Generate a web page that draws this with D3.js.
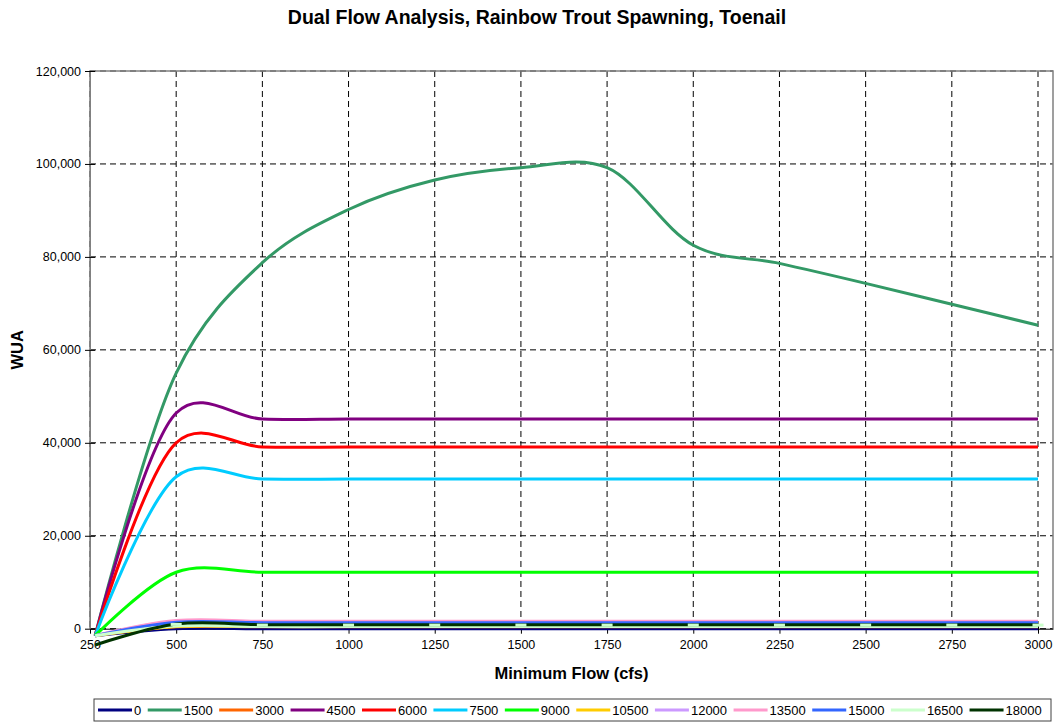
<!DOCTYPE html>
<html>
<head>
<meta charset="utf-8">
<script src="https://cdn.jsdelivr.net/npm/d3@7"></script>
<style>
  body { margin: 0; background: #fff; }
  svg { font-family: "Liberation Sans", Arial, sans-serif; }
  .title { font-size: 19.5px; font-weight: bold; }
  .axis-label { font-size: 16.5px; font-weight: bold; }
  .tick text { font-size: 12.5px; fill: #000; }
  .legend text { font-size: 13px; }
</style>
</head>
<body>
<svg width="1057" height="723"></svg>
<script>
// minimum flow (cfs) where each series has a point
const flows = [265, 500, 750, 1000, 1250, 1500, 1750, 2000, 2250, 2500, 2750, 3000];

// second flow (cfs) -> WUA values at each minimum flow
const seriesNames = ['0', '1500', '3000', '4500', '6000', '7500', '9000', '10500', '12000', '13500', '15000', '16500', '18000'];
const seriesColors = ['#000080', '#339966', '#ff6600', '#800080', '#ff0000', '#00ccff', '#00ff00', '#ffcc00', '#cc99ff', '#ff99cc', '#3366ff', '#ccffcc', '#003300'];

const wua0     = [-1500, 0, 0, 0, 0, 0, 0, 0, 0, 0, 0, 0];
const wua1500  = [-1500, 55000, 78750, 90200, 96550, 99200, 99200, 82500, 78600, 74300, 69800, 65300];
const wua3000  = [-1500, 400, 400, 400, 400, 400, 400, 400, 400, 400, 400, 400];
const wua4500  = [-1500, 46400, 45100, 45100, 45100, 45100, 45100, 45100, 45100, 45100, 45100, 45100];
const wua6000  = [-1500, 40000, 39100, 39100, 39100, 39100, 39100, 39100, 39100, 39100, 39100, 39100];
const wua7500  = [-1500, 32700, 32200, 32200, 32200, 32200, 32200, 32200, 32200, 32200, 32200, 32200];
const wua9000  = [-1500, 12150, 12150, 12150, 12150, 12150, 12150, 12150, 12150, 12150, 12150, 12150];
const wua10500 = [-1500, 450, 450, 450, 450, 450, 450, 450, 450, 450, 450, 450];
const wua12000 = [-1500, 1600, 1450, 1450, 1450, 1450, 1450, 1450, 1450, 1450, 1450, 1450];
const wua13500 = [-1500, 1750, 1600, 1600, 1600, 1600, 1600, 1600, 1600, 1600, 1600, 1600];
const wua15000 = [-1500, 1400, 1300, 1300, 1300, 1300, 1300, 1300, 1300, 1300, 1300, 1300];
const wua16500 = [-1500, 600, 450, 450, 450, 450, 450, 450, 450, 450, 450, 450];
const wua18000 = [-3500, 1000, 870, 870, 870, 870, 870, 870, 870, 870, 870, 870];

const seriesValues = [wua0, wua1500, wua3000, wua4500, wua6000, wua7500, wua9000,
    wua10500, wua12000, wua13500, wua15000, wua16500, wua18000];

const xTicks = [250, 500, 750, 1000, 1250, 1500, 1750, 2000, 2250, 2500, 2750, 3000];
const yTicks = [0, 20000, 40000, 60000, 80000, 100000, 120000];

var margin = {top: 71, right: 4, bottom: 94.3, left: 90},
    width = 1057 - margin.left - margin.right,
    height = 723 - margin.top - margin.bottom;

const svg = d3.select('svg');

const render = () => {
    const xScale = d3.scaleLinear()
        .domain([250, 3043.5])
        .range([0, width]);

    const yScale = d3.scaleLinear()
        .domain([0, 120000])
        .range([height, 0]);

    svg.append('text')
        .attr('class', 'title')
        .attr('x', 537)
        .attr('y', 24)
        .attr('text-anchor', 'middle')
        .text('Dual Flow Analysis, Rainbow Trout Spawning, Toenail');

    const g = svg.append('g')
        .attr('transform', `translate(${margin.left},${margin.top})`);

    // gridlines
    g.selectAll('.hgrid').data(yTicks).enter().append('line')
        .attr('x1', 0).attr('x2', width)
        .attr('y1', d => yScale(d)).attr('y2', d => yScale(d))
        .attr('stroke', '#000').attr('stroke-width', 1)
        .attr('stroke-dasharray', '6,4');

    g.selectAll('.vgrid').data(xTicks).enter().append('line')
        .attr('x1', d => xScale(d)).attr('x2', d => xScale(d))
        .attr('y1', 0).attr('y2', height)
        .attr('stroke', '#000').attr('stroke-width', 1)
        .attr('stroke-dasharray', '6,4');

    // plot frame
    g.append('path')
        .attr('d', `M0,${height}V0H${width}V${height}`)
        .attr('fill', 'none')
        .attr('stroke', '#808080')
        .attr('stroke-width', 1.5);

    const xAxis = d3.axisBottom(xScale)
        .tickValues(xTicks)
        .tickFormat(d3.format('d'))
        .tickSizeInner(5)
        .tickSizeOuter(0)
        .tickPadding(6);

    const yAxis = d3.axisLeft(yScale)
        .tickValues(yTicks)
        .tickFormat(d3.format(','))
        .tickSizeInner(5)
        .tickSizeOuter(0)
        .tickPadding(4);

    const xAxisG = g.append('g').call(xAxis)
        .attr('transform', `translate(0,${height})`);
    xAxisG.select('.domain').attr('stroke', '#000');
    xAxisG.selectAll('.tick line').attr('y1', -5).attr('stroke', '#000');

    const yAxisG = g.append('g').call(yAxis);
    yAxisG.select('.domain').attr('stroke', '#808080');
    yAxisG.selectAll('.tick line').attr('x1', 5).attr('stroke', '#000');

    xAxisG.append('text')
        .attr('class', 'axis-label')
        .attr('x', width / 2)
        .attr('y', 50)
        .attr('fill', 'black')
        .attr('text-anchor', 'middle')
        .text('Minimum Flow (cfs)');

    yAxisG.append('text')
        .attr('class', 'axis-label')
        .attr('x', -height / 2)
        .attr('y', -67)
        .attr('fill', 'black')
        .attr('transform', 'rotate(-90)')
        .attr('text-anchor', 'middle')
        .text('WUA');

    const series = seriesNames.map((name, i) => ({
        name: name,
        color: seriesColors[i],
        values: flows.map((f, j) => ({x: f, y: seriesValues[i][j]}))
    }));

    const line = d3.line()
        .x(d => xScale(d.x))
        .y(d => yScale(d.y))
        .curve(d3.curveCatmullRom.alpha(0.2));

    g.selectAll('.series').data(series).enter().append('path')
        .attr('class', 'series')
        .attr('d', d => line(d.values))
        .attr('fill', 'none')
        .attr('stroke', d => d.color)
        .attr('stroke-width', 3);

    // dash markers of the 16500 series
    const markerSeries = series[11];
    g.selectAll('.marker').data(markerSeries.values.slice(1)).enter().append('rect')
        .attr('class', 'marker')
        .attr('x', d => xScale(d.x) - 5.5)
        .attr('y', d => yScale(d.y) - 3)
        .attr('width', 11)
        .attr('height', 3)
        .attr('fill', markerSeries.color);

    // legend
    const legendG = svg.append('g').attr('class', 'legend');
    legendG.append('rect')
        .attr('x', 94).attr('y', 699)
        .attr('width', 957).attr('height', 22)
        .attr('fill', '#fff')
        .attr('stroke', '#404040')
        .attr('stroke-width', 1);

    let lx = 98;
    series.forEach(s => {
        legendG.append('line')
            .attr('x1', lx).attr('x2', lx + 34)
            .attr('y1', 710).attr('y2', 710)
            .attr('stroke', s.color)
            .attr('stroke-width', 3);
        const t = legendG.append('text')
            .attr('x', lx + 36)
            .attr('y', 710)
            .attr('dy', '.35em')
            .text(s.name);
        lx += 36 + t.node().getComputedTextLength() + 6.5;
    });
};

render();
</script>
</body>
</html>
